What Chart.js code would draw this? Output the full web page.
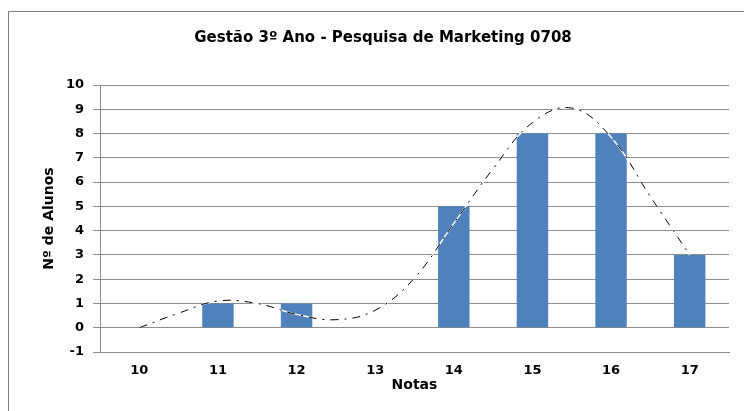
<!DOCTYPE html>
<html>
<head>
<meta charset="utf-8">
<script src="https://cdn.jsdelivr.net/npm/chart.js@4/dist/chart.umd.min.js"></script>
<style>
  html, body { margin: 0; padding: 0; background: #fff; overflow: hidden; }
  #wrap { position: relative; width: 744px; height: 411px; }
  #frame { position: absolute; left: 8px; top: 11px; width: 800px; height: 500px;
           border-left: 1px solid #808080; border-top: 1px solid #808080; }
  canvas { position: absolute; left: 0; top: 0; }
</style>
</head>
<body>
<div id="wrap">
  <div id="frame"></div>
  <canvas id="chart" width="744" height="411"></canvas>
</div>
<script>
// Data
const notas = [10, 11, 12, 13, 14, 15, 16, 17];
const alunos = [0, 1, 1, 0, 5, 8, 8, 3];

// trend line
const trendX = [10, 10.5, 11, 11.5, 12, 12.5, 13, 13.5, 14, 14.5, 15, 15.5, 16, 16.5, 17];
const trendY = [0, 0.6, 1.1, 1.0, 0.55, 0.33, 0.72, 2.05, 4.3, 6.55, 8.45, 9.05, 7.85, 5.4, 3.0];

const yTicks = [-1, 0, 1, 2, 3, 4, 5, 6, 7, 8, 9, 10];

const titulo = 'Gestão 3º Ano - Pesquisa de Marketing 0708';

const FONT = 'DejaVu Sans';
const gridColor = '#8c8c8c';

let bars = [];
for (let i = 0; i < notas.length; i++) {
    bars.push({ x: notas[i], y: alunos[i] });
}
let trend = [];
for (let i = 0; i < trendX.length; i++) {
    trend.push({ x: trendX[i], y: trendY[i] });
}

var ctx = document.getElementById('chart').getContext('2d');

var chart = new Chart(ctx, {
    type: 'bar',
    data: {
        datasets: [{
            type: 'line',
            data: trend,
            borderColor: '#000000',
            borderWidth: 1,
            borderDash: [8, 6, 2, 6],
            pointRadius: 0,
            tension: 0.4,
            fill: false,
            order: 0
        }, {
            type: 'line',
            data: trend,
            borderColor: '#ffffff',
            borderWidth: 1.5,
            pointRadius: 0,
            tension: 0.4,
            fill: false,
            order: 1
        }, {
            data: bars,
            backgroundColor: '#4f81bd',
            borderWidth: 0,
            grouped: false,
            barPercentage: 0.4,
            categoryPercentage: 1,
            order: 2
        }]
    },
    options: {
        responsive: false,
        animation: false,
        devicePixelRatio: 1,
        layout: { padding: { left: 37, right: 15, top: 0, bottom: 13 } },
        plugins: {
            legend: { display: false },
            tooltip: { enabled: false },
            title: {
                display: true,
                text: titulo,
                color: '#000',
                font: { family: FONT, size: 15, weight: 'bold' },
                padding: { top: 29, bottom: 38 }
            }
        },
        scales: {
            x: {
                type: 'linear',
                offset: false,
                min: 9.5,
                max: 17.5,
                afterBuildTicks: (s) => { s.ticks = notas.map(v => ({ value: v })); },
                grid: { display: false },
                border: { display: true, color: gridColor, width: 1 },
                ticks: { color: '#000', font: { family: FONT, size: 13, weight: 'bold' }, padding: 3 },
                title: {
                    display: true, text: 'Notas', color: '#000',
                    font: { family: FONT, size: 14, weight: 'bold' },
                    padding: { top: 0, bottom: 4 }
                },
                afterFit: (s) => { s.height = 46; }
            },
            y: {
                min: -1,
                max: 10,
                afterBuildTicks: (s) => { s.ticks = yTicks.map(v => ({ value: v })); },
                grid: { color: gridColor, lineWidth: 1, tickLength: 7 },
                border: { display: true, color: gridColor, width: 1 },
                ticks: { color: '#000', font: { family: FONT, size: 13, weight: 'bold' }, padding: 9 },
                title: {
                    display: true, text: 'Nº de Alunos', color: '#000',
                    font: { family: FONT, size: 14, weight: 'bold' },
                    padding: { bottom: 4 }
                },
                afterFit: (s) => { s.width = 63; }
            }
        }
    }
});
</script>
</body>
</html>
